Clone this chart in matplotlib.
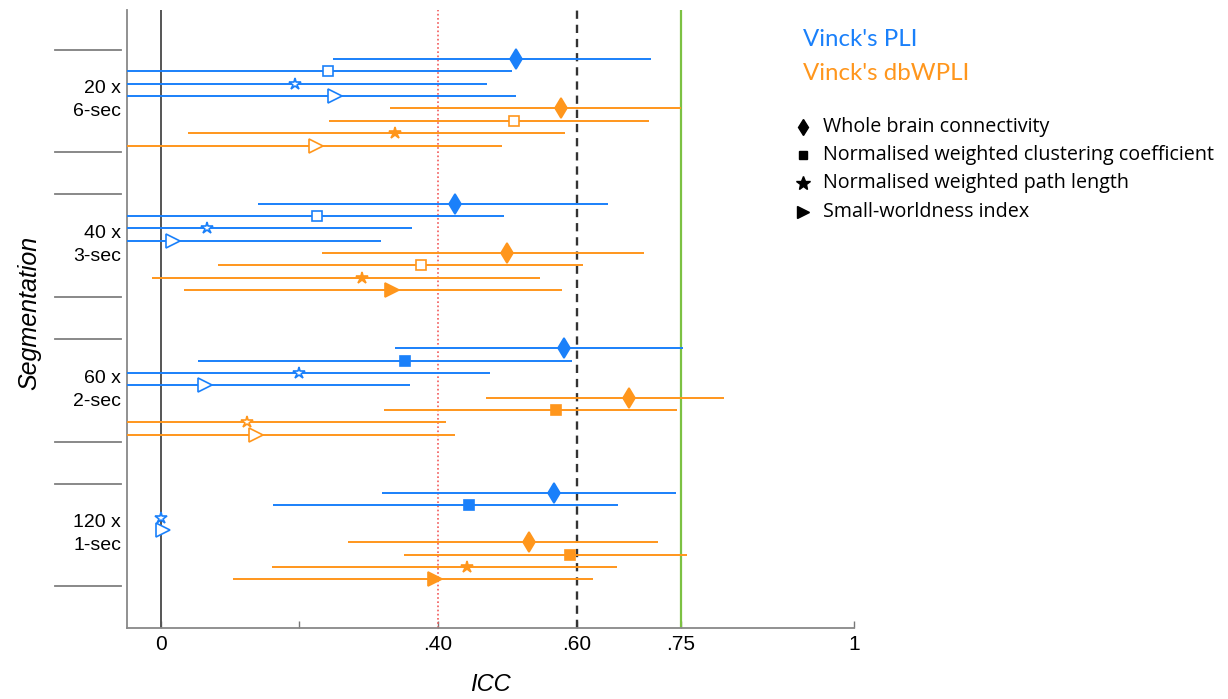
import matplotlib
matplotlib.use("Agg")
import matplotlib.pyplot as plt
import numpy as np
from matplotlib.lines import Line2D

# segmentations (top to bottom)
groups = ["20 x\n6-sec", "40 x\n3-sec", "60 x\n2-sec", "120 x\n1-sec"]
metrics = ["Whole brain connectivity", "Normalised weighted clustering coefficient",
           "Normalised weighted path length", "Small-worldness index"]
methods = ["Vinck's PLI", "Vinck's dbWPLI"]

# ICC point estimates [group][metric]
icc_pli = [[0.513, 0.241, 0.194, 0.252],
           [0.424, 0.226, 0.067, 0.018],
           [0.582, 0.352, 0.200, 0.064],
           [0.567, 0.444, 0.001, 0.003]]
lo_pli = [[0.248, -0.15, -0.15, -0.15],
          [0.140, -0.15, -0.15, -0.15],
          [0.338, 0.054, -0.15, -0.15],
          [0.319, 0.162, np.nan, np.nan]]
hi_pli = [[0.707, 0.507, 0.471, 0.512],
          [0.645, 0.495, 0.363, 0.318],
          [0.753, 0.593, 0.475, 0.359],
          [0.743, 0.659, np.nan, np.nan]]
filled_pli = [[1, 0, 0, 0],
              [1, 0, 0, 0],
              [1, 1, 0, 0],
              [1, 1, 0, 0]]

icc_wpli = [[0.578, 0.509, 0.338, 0.224],
            [0.499, 0.376, 0.290, 0.334],
            [0.675, 0.570, 0.124, 0.138],
            [0.531, 0.591, 0.442, 0.395]]
lo_wpli = [[0.331, 0.243, 0.039, -0.15],
           [0.232, 0.082, -0.013, 0.033],
           [0.469, 0.322, -0.15, -0.15],
           [0.270, 0.351, 0.160, 0.104]]
hi_wpli = [[0.750, 0.704, 0.583, 0.493],
           [0.697, 0.609, 0.547, 0.579],
           [0.812, 0.745, 0.412, 0.424],
           [0.718, 0.759, 0.658, 0.624]]
filled_wpli = [[1, 0, 1, 0],
               [1, 0, 1, 1],
               [1, 1, 0, 0],
               [1, 1, 1, 1]]

xticks = [0, 0.2, 0.4, 0.6, 0.75, 1]
xticklabels = ["0", "", ".40", ".60", ".75", "1"]

blue = "#1A80FA"
orange = "#FF961C"
markers = ["d", "s", "*", ">"]
msizes = [10.5, 6.5, 9, 9.5]

GROUP_STEP = 11.7

fig = plt.figure(figsize=(12.28, 6.99), dpi=100)
ax = fig.add_axes([127/1228, 1-627.7/699, 727/1228, 617.7/699])

for g in range(len(groups)):
    base = g * GROUP_STEP
    rows = [(icc_pli, lo_pli, hi_pli, filled_pli, blue),
            (icc_wpli, lo_wpli, hi_wpli, filled_wpli, orange)]
    for k, (icc, lo, hi, filled, col) in enumerate(rows):
        for m in range(4):
            y = base + k * 4 + m
            if not np.isnan(lo[g][m]):
                ax.plot([lo[g][m], hi[g][m]], [y, y], color=col, lw=1.4,
                        solid_capstyle="butt", zorder=3)
            face = col if filled[g][m] else "white"
            ax.plot(icc[g][m], y, marker=markers[m], ms=msizes[m], color=col,
                    mfc=face, mec=col, mew=1.2, zorder=4, clip_on=False)
    # separators and group labels left of the axis
    for yy in (base - 0.75, base + 7.55):
        ax.plot([-0.099, -0.0083], [yy, yy], color="#7f7f7f", lw=1.3,
                transform=ax.get_yaxis_transform(), clip_on=False)
    ax.text(-0.0083, base + 3.35, groups[g], transform=ax.get_yaxis_transform(),
            ha="right", va="center", fontsize=14, family="Liberation Sans",
            linespacing=1.45)

# reference lines
ax.axvline(0, color="#555555", lw=1.4, zorder=2)
ax.axvline(0.4, color="#F25A5A", lw=1.2, ls=(0, (1, 1.5)), zorder=2)
ax.axvline(0.6, color="#333333", lw=1.7, dashes=(3.5, 2.5), zorder=2)
ax.axvline(0.75, color="#7CC142", lw=1.6, zorder=2)

ax.set_xlim(-0.0486, 1.0)
ax.set_ylim(46.0, -3.96)
ax.set_xticks(xticks)
ax.set_xticklabels(xticklabels, family=["Liberation Sans Narrow", "Liberation Sans"],
                   fontsize=15)
ax.set_yticks([])
ax.tick_params(axis="x", direction="in", length=5, width=1, color="#777777", pad=5)
for s in ("top", "right"):
    ax.spines[s].set_visible(False)
for s in ("left", "bottom"):
    ax.spines[s].set_color("#888888")
    ax.spines[s].set_linewidth(1.3)

ax.set_xlabel("ICC", fontsize=17, style="italic", family="Liberation Sans", labelpad=14)
ax.set_ylabel("Segmentation", fontsize=18, style="italic", family="Liberation Sans")
ax.yaxis.set_label_coords(-0.118, 0.51)

# legend drawn by hand
fig.text(803/1228, 1-40/699, methods[0], color=blue, fontsize=17.3, family="Lato",
         ha="left", va="center")
fig.text(803/1228, 1-73/699, methods[1], color=orange, fontsize=17.3, family="Lato",
         ha="left", va="center")
leg_y = [127, 155, 183, 212]
leg_ms = [8.5, 5.5, 10, 8.5]
for i in range(4):
    fy = 1 - leg_y[i]/699
    fig.add_artist(Line2D([803/1228], [fy], marker=markers[i], ms=leg_ms[i], color="black",
                          ls="none", transform=fig.transFigure))
    fig.text(823/1228, fy, metrics[i], fontsize=14.2, family="Open Sans", ha="left",
             va="center")

fig.savefig("out.png", dpi=100)
